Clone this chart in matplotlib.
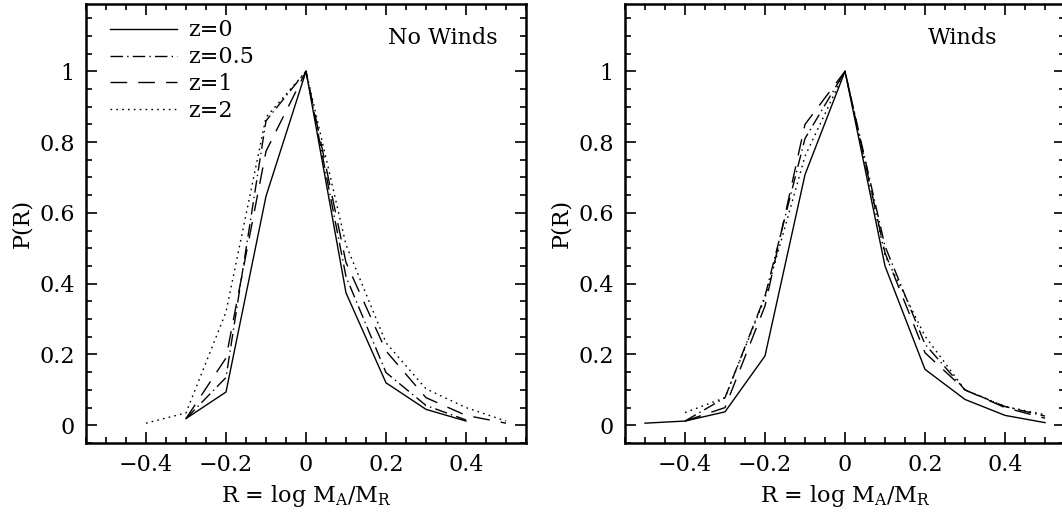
import matplotlib
matplotlib.use("Agg")
import matplotlib.pyplot as plt
from matplotlib.ticker import MultipleLocator, FixedLocator

plt.rcParams['font.family'] = ['DejaVu Serif']
plt.rcParams['mathtext.fontset'] = 'dejavuserif'

# ---- data: No Winds panel ----
nw_x0 = [-0.3, -0.2, -0.1, 0.0, 0.1, 0.2, 0.3, 0.4]
nw_z0 = [0.019, 0.094, 0.647, 1.0, 0.374, 0.120, 0.045, 0.012]
nw_x05 = [-0.3, -0.2, -0.1, 0.0, 0.1, 0.2, 0.3, 0.4]
nw_z05 = [0.019, 0.135, 0.860, 1.0, 0.420, 0.149, 0.056, 0.015]
nw_x1 = [-0.3, -0.2, -0.1, 0.0, 0.1, 0.2, 0.3, 0.4, 0.5]
nw_z1 = [0.019, 0.190, 0.774, 1.0, 0.460, 0.210, 0.078, 0.028, 0.006]
nw_x2 = [-0.4, -0.3, -0.2, -0.1, 0.0, 0.1, 0.2, 0.3, 0.4, 0.5]
nw_z2 = [0.006, 0.035, 0.320, 0.870, 1.0, 0.510, 0.233, 0.103, 0.050, 0.012]

# ---- data: Winds panel ----
w_x0 = [-0.5, -0.4, -0.3, -0.2, -0.1, 0.0, 0.1, 0.2, 0.3, 0.4, 0.5]
w_z0 = [0.006, 0.012, 0.038, 0.196, 0.708, 1.0, 0.450, 0.158, 0.073, 0.028, 0.0075]
w_x05 = [-0.4, -0.3, -0.2, -0.1, 0.0, 0.1, 0.2, 0.3, 0.4, 0.5]
w_z05 = [0.012, 0.078, 0.365, 0.810, 1.0, 0.506, 0.229, 0.100, 0.053, 0.026]
w_x1 = [-0.4, -0.3, -0.2, -0.1, 0.0, 0.1, 0.2, 0.3, 0.4, 0.5]
w_z1 = [0.012, 0.050, 0.337, 0.850, 1.0, 0.487, 0.205, 0.100, 0.050, 0.020]
w_x2 = [-0.4, -0.3, -0.2, -0.1, 0.0, 0.1, 0.2, 0.3, 0.4, 0.5]
w_z2 = [0.036, 0.078, 0.360, 0.760, 1.0, 0.480, 0.252, 0.100, 0.053, 0.030]

labels = ["z=0", "z=0.5", "z=1", "z=2"]
styles = ['-', (0, (9, 3, 1, 3)), (0, (12, 8)), (0, (1.2, 3))]
panel_titles = ["No Winds", "Winds"]

x_major = [-0.4, -0.2, 0.0, 0.2, 0.4]
x_major_labels = ["\u22120.4", "\u22120.2", "0", "0.2", "0.4"]
y_major = [0.0, 0.2, 0.4, 0.6, 0.8, 1.0]
y_major_labels = ["0", "0.2", "0.4", "0.6", "0.8", "1"]

W, H = 1062, 516
fig = plt.figure(figsize=(W / 100, H / 100), dpi=100)

lefts = [86, 625]
title_right = [498, 997]

def make_axes(left_px):
    return fig.add_axes([left_px / W, (H - 443) / H, 440 / W, 439 / H])

axes = [make_axes(l) for l in lefts]
data = [
    [(nw_x0, nw_z0), (nw_x05, nw_z05), (nw_x1, nw_z1), (nw_x2, nw_z2)],
    [(w_x0, w_z0), (w_x05, w_z05), (w_x1, w_z1), (w_x2, w_z2)],
]

for i, ax in enumerate(axes):
    for (xs, ys), ls, lab in zip(data[i], styles, labels):
        ax.plot(xs, ys, color='black', lw=1.0, linestyle=ls, label=lab)
    ax.set_xlim(-0.55, 0.55)
    ax.set_ylim(-0.05, 1.19)
    ax.xaxis.set_major_locator(FixedLocator(x_major))
    ax.set_xticklabels(x_major_labels)
    ax.xaxis.set_minor_locator(MultipleLocator(0.05))
    ax.yaxis.set_major_locator(FixedLocator(y_major))
    ax.set_yticklabels(y_major_labels)
    ax.yaxis.set_minor_locator(MultipleLocator(0.05))
    ax.tick_params(which='both', direction='in', top=True, right=True,
                   labelsize=16, width=1.2)
    ax.tick_params(which='major', length=8, pad=8)
    ax.tick_params(which='minor', length=4)
    for s in ax.spines.values():
        s.set_linewidth(1.8)
    ax.set_xlabel(r"R = log M$_\mathrm{A}$/M$_\mathrm{R}$", fontsize=16, labelpad=5)
    ax.set_ylabel("P(R)", fontsize=16, labelpad=4)
    ax.text((title_right[i] - lefts[i]) / 440, (443 - 38) / 439,
            panel_titles[i], transform=ax.transAxes, ha='right', va='center',
            fontsize=16)

axes[0].legend(loc='upper left', bbox_to_anchor=(0.035, 0.985), frameon=False,
               fontsize=16, handlelength=3.0, labelspacing=0.22,
               handletextpad=0.5, borderaxespad=0.0)

fig.savefig("out.png", dpi=100)
